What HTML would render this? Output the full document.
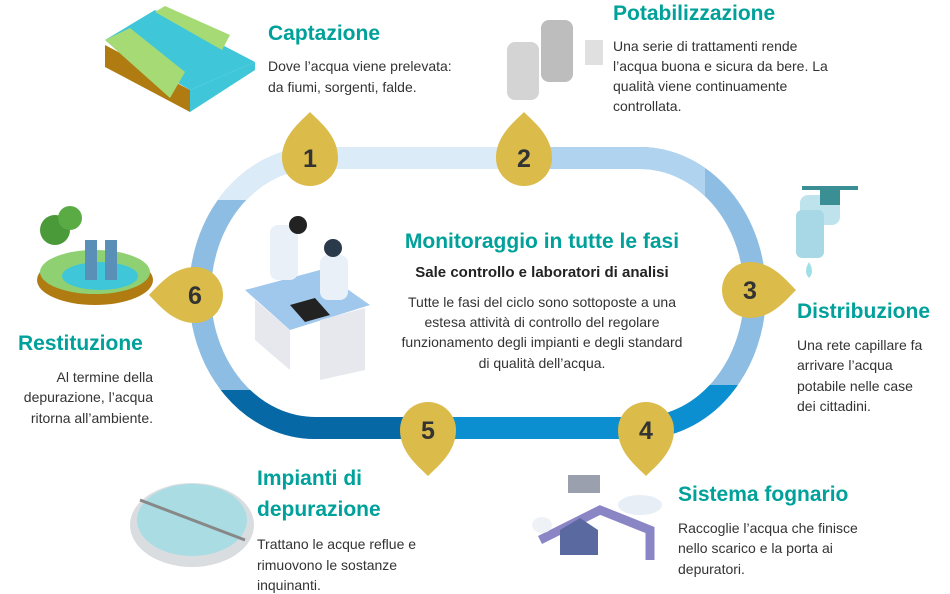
<!DOCTYPE html>
<html><head><meta charset="utf-8"><style>
html,body{margin:0;padding:0;background:#fff;}
svg{display:block;font-family:"Liberation Sans",sans-serif;}
.t{fill:#00a19a;font-size:21px;font-weight:bold;}
.b{fill:#333;font-size:14px;}
.n{fill:#333;font-size:25px;font-weight:bold;text-anchor:middle;}
</style></head><body>
<svg width="950" height="594" viewBox="0 0 950 594" xmlns="http://www.w3.org/2000/svg">
<defs>
<clipPath id="c1"><rect x="0" y="0" width="505" height="200"/></clipPath>
<clipPath id="c2"><rect x="505" y="0" width="200" height="225"/></clipPath>
<clipPath id="c3"><rect x="430" y="385" width="400" height="100"/></clipPath>
<clipPath id="c4"><rect x="0" y="390" width="430" height="100"/></clipPath>
<path id="drop" d="M0,-46 C10,-36 28,-22 28,0 A28,28 0 1 1 -28,0 C-28,-22 -10,-36 0,-46Z" fill="#dbbb4a"/>
</defs>
<!-- ring -->
<rect x="200" y="158" width="555" height="270" rx="115" ry="135" fill="none" stroke="#8dbde3" stroke-width="22"/>
<rect x="200" y="158" width="555" height="270" rx="115" ry="135" fill="none" stroke="#dcebf8" stroke-width="22" clip-path="url(#c1)"/>
<rect x="200" y="158" width="555" height="270" rx="115" ry="135" fill="none" stroke="#b0d3ef" stroke-width="22" clip-path="url(#c2)"/>
<rect x="200" y="158" width="555" height="270" rx="115" ry="135" fill="none" stroke="#0b8fd0" stroke-width="22" clip-path="url(#c3)"/>
<rect x="200" y="158" width="555" height="270" rx="115" ry="135" fill="none" stroke="#0668a5" stroke-width="22" clip-path="url(#c4)"/>
<!-- drops -->
<use href="#drop" transform="translate(310,158)"/>
<use href="#drop" transform="translate(524,158)"/>
<use href="#drop" transform="translate(750,290) rotate(90)"/>
<use href="#drop" transform="translate(646,430) rotate(180)"/>
<use href="#drop" transform="translate(428,430) rotate(180)"/>
<use href="#drop" transform="translate(195,295) rotate(-90)"/>
<text class="n" x="310" y="167">1</text>
<text class="n" x="524" y="167">2</text>
<text class="n" x="750" y="299">3</text>
<text class="n" x="646" y="439">4</text>
<text class="n" x="428" y="439">5</text>
<text class="n" x="195" y="304">6</text>

<!-- illustrations -->
<!-- captazione -->
<polygon points="105,45 190,90 190,112 105,67" fill="#b07c12"/>
<polygon points="190,90 255,62 255,70 190,112" fill="#3fc6d8"/>
<polygon points="105,40 155,10 255,62 190,90" fill="#3fc6d8"/>
<polygon points="105,40 130,28 185,72 170,98" fill="#a6da74"/>
<polygon points="155,12 165,6 230,35 222,50" fill="#a6da74"/>
<!-- potabilizzazione -->
<rect x="507" y="42" width="32" height="58" rx="8" fill="#d4d4d4"/>
<rect x="541" y="20" width="32" height="62" rx="8" fill="#bdbdbd"/>
<rect x="585" y="40" width="18" height="25" fill="#e0e0e0"/>
<!-- tap -->
<rect x="800" y="195" width="40" height="30" rx="8" fill="#bfe3ec"/>
<rect x="796" y="210" width="28" height="48" rx="6" fill="#a8d8e6"/>
<rect x="820" y="190" width="20" height="15" fill="#3a8f95"/>
<rect x="802" y="186" width="56" height="4" fill="#3a8f95"/>
<path d="M809,262 q6,10 0,16 q-6,-6 0,-16z" fill="#9fe0e8"/>
<!-- restituzione -->
<ellipse cx="95" cy="280" rx="58" ry="25" fill="#b07c12"/>
<ellipse cx="95" cy="272" rx="55" ry="22" fill="#8fd072"/>
<ellipse cx="100" cy="276" rx="38" ry="14" fill="#3fc6d8"/>
<rect x="85" y="240" width="12" height="40" fill="#5a8fb8"/>
<rect x="105" y="240" width="12" height="40" fill="#5a8fb8"/>
<circle cx="55" cy="230" r="15" fill="#4a9a3a"/>
<circle cx="70" cy="218" r="12" fill="#5aab44"/>
<!-- desk scene -->
<polygon points="245,290 320,270 370,305 290,330" fill="#9fc8ec"/>
<polygon points="255,300 290,330 290,370 255,340" fill="#e6e8ee"/>
<polygon points="320,320 365,308 365,370 320,380" fill="#e6e8ee"/>
<rect x="270" y="225" width="28" height="55" rx="8" fill="#e9f0f8"/>
<circle cx="298" cy="225" r="9" fill="#222"/>
<rect x="320" y="255" width="28" height="45" rx="8" fill="#e9f0f8"/>
<circle cx="333" cy="248" r="9" fill="#2a3a4a"/>
<polygon points="290,305 315,298 330,315 305,322" fill="#222"/>
<!-- depurazione -->
<ellipse cx="192" cy="525" rx="62" ry="42" fill="#d9dde0"/>
<ellipse cx="192" cy="520" rx="55" ry="36" fill="#a9dde3"/>
<line x1="140" y1="500" x2="245" y2="540" stroke="#888" stroke-width="3"/>
<!-- fognatura -->
<path d="M540,540 L600,510 L650,530 L650,560" fill="none" stroke="#8a86c6" stroke-width="9"/>
<rect x="568" y="475" width="32" height="18" fill="#9aa0ae"/>
<polygon points="560,530 580,518 598,530 598,555 560,555" fill="#5a6aa0"/>
<ellipse cx="640" cy="505" rx="22" ry="10" fill="#e7eef6"/>
<ellipse cx="542" cy="525" rx="10" ry="8" fill="#eef2f6"/>

<!-- texts -->
<text class="t" x="268" y="40">Captazione</text>
<text class="b" x="268" y="71">Dove l’acqua viene prelevata:</text>
<text class="b" x="268" y="92">da fiumi, sorgenti, falde.</text>

<text class="t" x="613" y="20">Potabilizzazione</text>
<text class="b" x="613" y="51">Una serie di trattamenti rende</text>
<text class="b" x="613" y="71">l’acqua buona e sicura da bere. La</text>
<text class="b" x="613" y="91">qualità viene continuamente</text>
<text class="b" x="613" y="111">controllata.</text>

<text class="t" x="797" y="318">Distribuzione</text>
<text class="b" x="797" y="350">Una rete capillare fa</text>
<text class="b" x="797" y="370">arrivare l’acqua</text>
<text class="b" x="797" y="391">potabile nelle case</text>
<text class="b" x="797" y="411">dei cittadini.</text>

<text class="t" x="18" y="350">Restituzione</text>
<text class="b" x="153" y="382" text-anchor="end">Al termine della</text>
<text class="b" x="153" y="402" text-anchor="end">depurazione, l’acqua</text>
<text class="b" x="153" y="423" text-anchor="end">ritorna all’ambiente.</text>

<text class="t" x="257" y="485">Impianti di</text>
<text class="t" x="257" y="516">depurazione</text>
<text class="b" x="257" y="549">Trattano le acque reflue e</text>
<text class="b" x="257" y="570">rimuovono le sostanze</text>
<text class="b" x="257" y="590">inquinanti.</text>

<text class="t" x="678" y="501">Sistema fognario</text>
<text class="b" x="678" y="533">Raccoglie l’acqua che finisce</text>
<text class="b" x="678" y="553">nello scarico e la porta ai</text>
<text class="b" x="678" y="574">depuratori.</text>

<text class="t" x="542" y="248" text-anchor="middle">Monitoraggio in tutte le fasi</text>
<text x="542" y="277" text-anchor="middle" style="fill:#222;font-size:15px;font-weight:bold">Sale controllo e laboratori di analisi</text>
<text class="b" x="542" y="307" text-anchor="middle">Tutte le fasi del ciclo sono sottoposte a una</text>
<text class="b" x="542" y="327" text-anchor="middle">estesa attività di controllo del regolare</text>
<text class="b" x="542" y="347" text-anchor="middle">funzionamento degli impianti e degli standard</text>
<text class="b" x="542" y="368" text-anchor="middle">di qualità dell’acqua.</text>
</svg>
</body></html>
